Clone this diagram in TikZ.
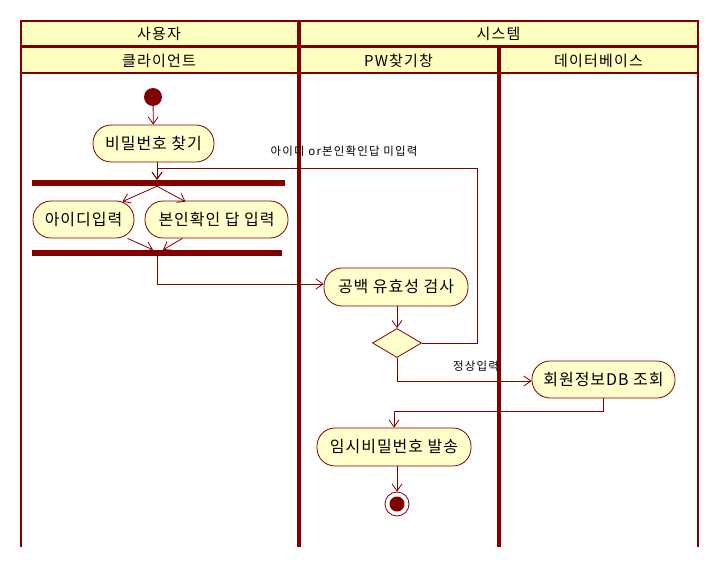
\documentclass[tikz,border=0pt]{standalone}
\usepackage{fontspec}
\setmainfont{Noto Sans CJK KR}
\usetikzlibrary{arrows.meta,shapes.geometric,calc}
\definecolor{lane}{RGB}{128,0,0}
\definecolor{headfill}{RGB}{255,255,192}
\definecolor{actfill}{RGB}{255,255,204}
\tikzset{
  action/.style={draw=lane, fill=actfill, rounded corners=18pt, minimum height=37pt,
    inner sep=0pt, line width=0.8pt,
    font=\fontsize{16}{18}\selectfont\addfontfeature{LetterSpace=6}},
  flow/.style={draw=lane, line width=0.8pt, -{Straight Barb[length=7pt,width=10pt]}},
  syncbar/.style={fill=lane, draw=none, inner sep=0pt, minimum height=6pt},
  lanehead/.style={font=\fontsize{15}{17}\selectfont\addfontfeature{LetterSpace=8}, inner sep=0pt},
  guard/.style={font=\fontsize{11.5}{13}\selectfont\addfontfeature{LetterSpace=10}, inner sep=0pt},
  thinlane/.style={draw=lane, line width=2pt},
  thicklane/.style={draw=lane, line width=4pt},
}
\begin{document}
\begin{tikzpicture}[x=1pt, y=-1pt]
\useasboundingbox (0,0) rectangle (720,567);

% swimlane header
\fill[headfill] (20,21) rectangle (698,73.5);
\draw[thinlane] (20.5,21) -- (698,21);
\draw[draw=lane, line width=3.5pt] (20.5,46.5) -- (698,46.5);
\draw[thinlane] (20.5,73.5) -- (698,73.5);
\draw[thinlane] (20.5,20) -- (20.5,547);
\draw[thinlane] (698,20) -- (698,547);
\draw[thicklane] (298.7,20) -- (298.7,547);
\draw[thicklane] (498.7,46.5) -- (498.7,547);

\node[lanehead] (hUser) at (159,33.5) {사용자};
\node[lanehead] (hSys) at (498.5,33.5) {시스템};
\node[lanehead] (hClient) at (159,60.5) {클라이언트};
\node[lanehead] (hPw) at (398.5,60.5) {PW찾기창};
\node[lanehead] (hDb) at (598.5,60.5) {데이터베이스};

% activity nodes
\node[circle, fill=lane, minimum size=18pt, inner sep=0pt] (start) at (153,97) {};
\node[action, minimum width=121pt] (find) at (153.5,143.5) {비밀번호 찾기};
\node[syncbar, minimum width=253pt] (fork) at (158.5,183) {};
\node[action, minimum width=101pt] (id) at (83.5,219.5) {아이디입력};
\node[action, minimum width=143pt] (ans) at (216.5,219.5) {본인확인 답 입력};
\node[syncbar, minimum width=250pt] (join) at (157,253) {};
\node[action, minimum width=144pt, minimum height=38pt] (check) at (396,287) {공백 유효성 검사};
\node[diamond, draw=lane, fill=actfill, line width=0.8pt, minimum width=49pt,
      minimum height=29pt, inner sep=0pt] (dec) at (397,343) {};
\node[action, minimum width=143pt] (db) at (603.5,379.5) {회원정보DB 조회};
\node[action, minimum width=154pt, minimum height=38pt] (send) at (394,447) {임시비밀번호 발송};
\node[circle, draw=lane, fill=white, line width=0.8pt, minimum size=24pt, inner sep=0pt] (final) at (397,504) {};
\node[circle, fill=lane, minimum size=15pt, inner sep=0pt] (finaldot) at (final.center) {};

% guard labels
\node[guard] (gMiss) at (344,151) {아이디 or본인확인답 미입력};
\node[guard] (gOk) at (476,366) {정상입력};

% connectors
\coordinate (tap) at (157,0);
\coordinate (loopc) at (477,168);
\draw[flow] (start) -- (find);
\draw[flow] (find.south -| tap) -- (fork.north -| tap);
\draw[flow] (fork.south -| tap) -- ($(id.north)+(39,1)$);
\draw[flow] (fork.south -| tap) -- ($(ans.north)+(-31,1)$);
\draw[flow] ($(id.south)+(44,0)$) -- ($(join.north)+(-4,0)$);
\draw[flow] ($(ans.south)+(-34,0)$) -- ($(join.north)+(6,0)$);
\draw[flow] (join.south -| tap) |- ($(check.west)+(0,-3)$);
\draw[flow] (check.south -| dec.north) -- (dec.north);
\draw[flow] (dec.east) -| (loopc) -| (fork.north -| tap);
\draw[flow] (dec.south) |- ($(db.west)+(0,1.5)$);
\draw[flow] (db.south) |- ($(send.north)+(0,-16)$) -- (send.north);
\draw[flow] (send.south -| final.north) -- (final.north);
\end{tikzpicture}
\end{document}
